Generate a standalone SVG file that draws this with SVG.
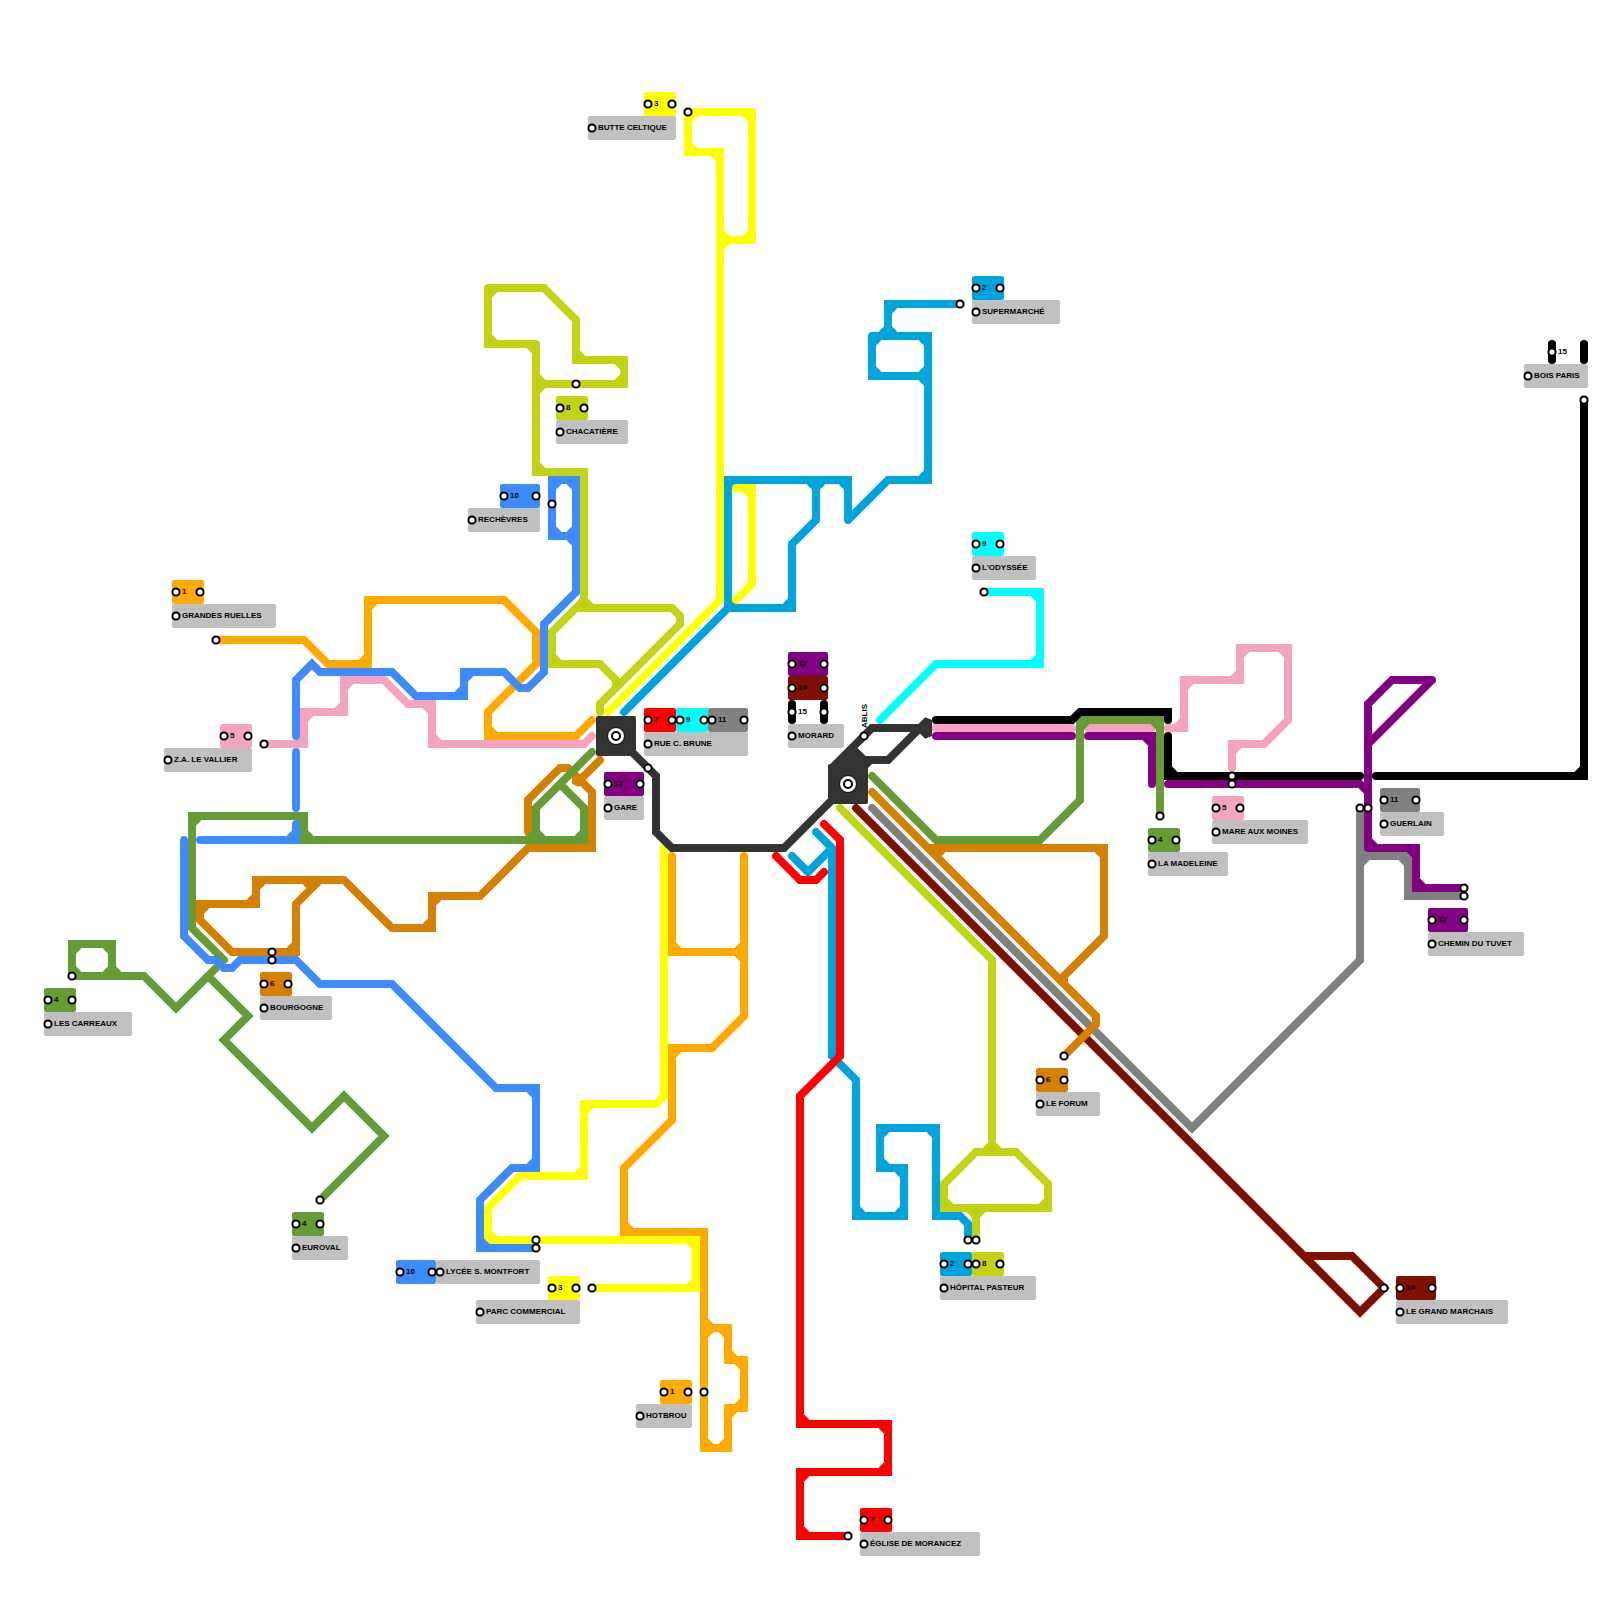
<svg xmlns="http://www.w3.org/2000/svg" width="1600" height="1600" viewBox="0 0 1600 1600">
<style>
.l{fill:none;stroke-width:8;stroke-linecap:round;stroke-linejoin:miter;stroke-miterlimit:2}
.s{fill:#fff;stroke:#000;stroke-width:2}
.b{fill:#c0c0c0}
text{font-family:"Liberation Sans",Arial,sans-serif;font-size:8px;font-weight:bold;fill:#000;transform:translate(0,-1px)}
</style>
<rect width="1600" height="1600" fill="#fff"/>
<g id="connectors">
<path id="line1" class="l" stroke="#ffaa00" d="M216,640H304L328,664H368V600H504L536,632V664L488,712V736H576L592,720M360,664L368,656M376,600L368,608M488,728L496,736
M672,856V952H744M744,856V1016L712,1048H672V1120L624,1168V1232H704V1448H728V1408H744V1360H728V1328H712L704,1320
M672,944L680,952M736,952L744,944M736,952L744,960M680,1048L672,1056M624,1224L632,1232M696,1232L704,1240M704,1440L712,1448M720,1448L728,1440M728,1416L736,1408M736,1408L744,1400M736,1360L744,1368M728,1352L736,1360M720,1328L728,1336M712,1328L704,1336"/>
<path id="line2" class="l" stroke="#00a3da" d="M960,304H888V336M896,304L888,312M880,336L888,328M896,336L888,328M872,336H928V480H888L848,520V480H728V608H792V544L816,520V480M872,336V376H928M880,336L872,344M872,368L880,376M920,336L928,344M920,376L928,368M920,376L928,384M928,472L920,480M840,480L848,488M736,480L728,488M808,480L816,488M824,480L816,488M784,608L792,600M728,600L736,608M848,520h0M728,608L624,712
M792,856L808,872L832,848M816,832L832,848V1056L856,1080V1216H904V1168H880V1128H936V1216H960L968,1224V1240M856,1208L864,1216M896,1216L904,1208M896,1168L904,1176M880,1160L888,1168M888,1128L880,1136M928,1128L936,1136M936,1208L944,1216"/>
<path id="line3" class="l" stroke="#ffff00" d="M688,112H752V240H728L720,232M728,240L720,248M688,112V152H720V600L608,712M696,112L688,120M744,112L752,120M688,144L696,152M712,152L720,160M752,232L744,240M736,488H752V584L736,600M744,488L752,496
M664,848V1096L656,1104H584V1176H520L488,1208V1240H696V1288H592M488,1232L496,1240M688,1240L696,1248M696,1280L688,1288M584,1168L576,1176M592,1104L584,1112"/>
<path id="line5" class="l" stroke="#f4a4c0" d="M264,744H304V712H344V680H384L408,704H432V744H584L592,736M296,744L304,736M312,712L304,720M336,712L344,704M352,680L344,688M424,704L432,712M432,736L440,744
M936,728H1072M1088,728H1152M1168,728H1184V680H1240V648H1288V720L1264,744H1232V768M1176,728L1184,720M1192,680L1184,688M1232,680L1240,672M1248,648L1240,656M1280,648L1288,656M1240,744L1232,752"/>
<path id="line6a" class="l" stroke="#d48000" d="M528,832V800L560,768H568L592,792V848H528L480,896H432V928H392L344,880H256V904H200V920L232,952H296V904L320,880M600,760L576,784V776M584,848L592,840M440,896L432,904M432,920L424,928M264,880L256,888M256,896L248,904M208,904L200,912M296,944L288,952M304,880L312,888"/>
<path id="line4" class="l" stroke="#669c35" d="M72,976V944H112V976M72,976H144L176,1008L216,968M208,976L248,1016L224,1040L312,1128L344,1096L384,1136L320,1200M80,944L72,952M104,944L112,952M104,976L112,968M120,976L112,968M72,968L80,976
M224,960L192,928V816H304V840H584V808L560,784M592,752L536,808V840M536,832L544,840M528,840L536,832M576,840L584,832M296,816L304,824M304,832L312,840M200,816L192,824
M872,776L936,840H1040L1080,800V720H1160V816M1088,720L1080,728M1152,720L1160,728"/>
<path id="line7" class="l" stroke="#ff0000" d="M824,824L840,840V1056L800,1096V1424H888V1472H800V1536H848M776,856L800,880H816L824,872M800,1416L808,1424M880,1424L888,1432M888,1464L880,1472M808,1472L800,1480M800,1528L808,1536"/>
<path id="line8" class="l" stroke="#c2d315" d="M488,288H544L576,320V360H624V384H536M536,344H488V288M536,344V472H584V600L552,632V664H600L616,680V688M680,624L600,704V712M592,608H672L680,616V624M576,608H592M584,600L592,608M552,656L560,664M576,472L584,480M536,464L544,472M536,376L544,384M544,384L536,392M528,344L536,352M488,336L496,344M496,288L488,296M576,352L584,360M616,360L624,368M624,376L616,384
M840,808L992,960V1152M976,1152H1016L1048,1184V1208H944V1184L976,1152M976,1208V1240M984,1152L992,1144M1000,1152L992,1144M968,1208L976,1216M984,1208L976,1216M944,1200L952,1208M1040,1208L1048,1200"/>
<path id="line9" class="l" stroke="#00ffff" d="M880,720L936,664H1040V592H984M1040,656L1032,664M1032,592L1040,600"/>
<path id="line10" class="l" stroke="#3d8bff" d="M536,1248H480V1200L512,1168H536V1088H496L392,984H320L296,960H240L232,968H224L216,960H208L184,936V840M480,1240L488,1248M528,1168L536,1160M528,1088L536,1096
M200,840H296V824M288,840L296,832M296,808V752M296,736V680L312,664L320,672H392L416,696H464V672H504L520,688H528L544,672V624L576,592V480H552V536H568L576,544M456,696L464,688M472,672L464,680M560,480L552,488M568,480L576,488M552,528L560,536M568,536L576,528"/>
<path id="line11" class="l" stroke="#808080" d="M1360,808V960L1192,1128L872,808M1360,856H1408V896H1464M1360,848L1368,856M1368,856L1360,864M1400,856L1408,864M1408,888L1416,896"/>
<path id="line12" class="l" stroke="#800080" d="M936,736H1072M1088,736H1152V784M1144,736L1152,744M1168,784H1360L1368,792M1368,848V704L1392,680H1432L1368,744M1432,680h0M1368,848H1416V888H1464M1368,840L1376,848M1408,848L1416,856M1416,880L1424,888"/>
<path id="line14" class="l" stroke="#7f1100" d="M856,808L1360,1312L1384,1288L1352,1256H1304"/>
<path id="line6b" class="l" stroke="#d48000" d="M872,792L1096,1016V1024L1064,1056M928,848H1104V936L1064,976V984M1096,848L1104,856M944,848L936,856"/>
<path id="line15" class="l" stroke="#000" d="M936,720H1072L1080,712H1168V720M1168,736V776H1360M1376,776H1584V400M1168,768L1176,776M1576,776L1584,768"/>
<path id="lineCore" class="l" stroke="#333" d="M632,752L656,776V832L672,848H784L832,800M832,768L872,728H920L928,720V736L920,728M856,752L864,760H888L920,728"/>
<polygon fill="#333" points="838,760 856,748 864,756 872,764 868,768 838,768"/>
</g>
<g id="core1"><rect x="596" y="716" width="40" height="40" rx="2" fill="#333"/><circle cx="616" cy="736" r="8.5" fill="#fff" stroke="#000" stroke-width="1"/><circle cx="616" cy="736" r="5" fill="#000"/><circle cx="616" cy="736" r="3" fill="#fff"/></g>
<g id="core2"><rect x="828" y="764" width="40" height="40" rx="2" fill="#333"/><circle cx="848" cy="784" r="8.5" fill="#fff" stroke="#000" stroke-width="1"/><circle cx="848" cy="784" r="5" fill="#000"/><circle cx="848" cy="784" r="3" fill="#fff"/></g>
<g id="terminals">
<circle class="s" cx="216" cy="640" r="3.6"/><circle class="s" cx="264" cy="744" r="3.6"/><circle class="s" cx="72" cy="976" r="3.6"/><circle class="s" cx="320" cy="1200" r="3.6"/><circle class="s" cx="272" cy="952" r="3.6"/><circle class="s" cx="272" cy="960" r="3.6"/><circle class="s" cx="536" cy="1240" r="3.6"/><circle class="s" cx="536" cy="1248" r="3.6"/><circle class="s" cx="592" cy="1288" r="3.6"/><circle class="s" cx="704" cy="1392" r="3.6"/><circle class="s" cx="848" cy="1536" r="3.6"/><circle class="s" cx="968" cy="1240" r="3.6"/><circle class="s" cx="976" cy="1240" r="3.6"/><circle class="s" cx="1064" cy="1056" r="3.6"/><circle class="s" cx="1384" cy="1288" r="3.6"/><circle class="s" cx="1464" cy="888" r="3.6"/><circle class="s" cx="1464" cy="896" r="3.6"/><circle class="s" cx="1360" cy="808" r="3.6"/><circle class="s" cx="1368" cy="808" r="3.6"/><circle class="s" cx="1232" cy="776" r="3.6"/><circle class="s" cx="1232" cy="784" r="3.6"/><circle class="s" cx="1160" cy="816" r="3.6"/><circle class="s" cx="1584" cy="400" r="3.6"/><circle class="s" cx="984" cy="592" r="3.6"/><circle class="s" cx="960" cy="304" r="3.6"/><circle class="s" cx="864" cy="736" r="3.6"/><circle class="s" cx="648" cy="768" r="3.6"/><circle class="s" cx="552" cy="504" r="3.6"/><circle class="s" cx="576" cy="384" r="3.6"/><circle class="s" cx="688" cy="112" r="3.6"/>
<text style="transform:translate(867px,728px) rotate(-90deg)">ABLIS</text>
</g>
<g id="grandes-ruelles"><rect x="172" y="580" width="32" height="24" rx="2" fill="#ffaa00"/><rect class="b" x="172" y="604" width="104" height="24" rx="2"/><circle class="s" cx="176" cy="592" r="3.6"/><circle class="s" cx="200" cy="592" r="3.6"/><circle class="s" cx="176" cy="616" r="3.6"/><text x="182" y="595">1</text><text x="182" y="619">GRANDES RUELLES</text></g>
<g id="za-le-vallier"><rect x="220" y="724" width="32" height="24" rx="2" fill="#f4a4c0"/><rect class="b" x="164" y="748" width="88" height="24" rx="2"/><circle class="s" cx="224" cy="736" r="3.6"/><circle class="s" cx="248" cy="736" r="3.6"/><circle class="s" cx="168" cy="760" r="3.6"/><text x="230" y="739">5</text><text x="174" y="763">Z.A. LE VALLIER</text></g>
<g id="les-carreaux"><rect x="44" y="988" width="32" height="24" rx="2" fill="#669c35"/><rect class="b" x="44" y="1012" width="88" height="24" rx="2"/><circle class="s" cx="48" cy="1000" r="3.6"/><circle class="s" cx="72" cy="1000" r="3.6"/><circle class="s" cx="48" cy="1024" r="3.6"/><text x="54" y="1003">4</text><text x="54" y="1027">LES CARREAUX</text></g>
<g id="bourgogne"><rect x="260" y="972" width="32" height="24" rx="2" fill="#d48000"/><rect class="b" x="260" y="996" width="72" height="24" rx="2"/><circle class="s" cx="264" cy="984" r="3.6"/><circle class="s" cx="288" cy="984" r="3.6"/><circle class="s" cx="264" cy="1008" r="3.6"/><text x="270" y="987">6</text><text x="270" y="1011">BOURGOGNE</text></g>
<g id="euroval"><rect x="292" y="1212" width="32" height="24" rx="2" fill="#669c35"/><rect class="b" x="292" y="1236" width="56" height="24" rx="2"/><circle class="s" cx="296" cy="1224" r="3.6"/><circle class="s" cx="320" cy="1224" r="3.6"/><circle class="s" cx="296" cy="1248" r="3.6"/><text x="302" y="1227">4</text><text x="302" y="1251">EUROVAL</text></g>
<g id="lycee"><rect x="396" y="1260" width="40" height="24" rx="2" fill="#3d8bff"/><rect class="b" x="436" y="1260" width="104" height="24" rx="2"/><circle class="s" cx="400" cy="1272" r="3.6"/><circle class="s" cx="432" cy="1272" r="3.6"/><circle class="s" cx="440" cy="1272" r="3.6"/><text x="406" y="1275">10</text><text x="446" y="1275">LYCÉE S. MONTFORT</text></g>
<g id="parc-commercial"><rect x="548" y="1276" width="32" height="24" rx="2" fill="#ffff00"/><rect class="b" x="476" y="1300" width="104" height="24" rx="2"/><circle class="s" cx="552" cy="1288" r="3.6"/><circle class="s" cx="576" cy="1288" r="3.6"/><circle class="s" cx="480" cy="1312" r="3.6"/><text x="558" y="1291">3</text><text x="486" y="1315">PARC COMMERCIAL</text></g>
<g id="hotbrou"><rect x="660" y="1380" width="32" height="24" rx="2" fill="#ffaa00"/><rect class="b" x="636" y="1404" width="56" height="24" rx="2"/><circle class="s" cx="664" cy="1392" r="3.6"/><circle class="s" cx="688" cy="1392" r="3.6"/><circle class="s" cx="640" cy="1416" r="3.6"/><text x="670" y="1395">1</text><text x="646" y="1419">HOTBROU</text></g>
<g id="eglise"><rect x="860" y="1508" width="32" height="24" rx="2" fill="#ff0000"/><rect class="b" x="860" y="1532" width="120" height="24" rx="2"/><circle class="s" cx="864" cy="1520" r="3.6"/><circle class="s" cx="888" cy="1520" r="3.6"/><circle class="s" cx="864" cy="1544" r="3.6"/><text x="870" y="1523">7</text><text x="870" y="1547">ÉGLISE DE MORANCEZ</text></g>
<g id="hopital"><rect x="940" y="1252" width="32" height="24" rx="2" fill="#00a3da"/><rect x="972" y="1252" width="32" height="24" rx="2" fill="#c2d315"/><rect class="b" x="940" y="1276" width="96" height="24" rx="2"/><circle class="s" cx="944" cy="1264" r="3.6"/><circle class="s" cx="968" cy="1264" r="3.6"/><circle class="s" cx="976" cy="1264" r="3.6"/><circle class="s" cx="1000" cy="1264" r="3.6"/><circle class="s" cx="944" cy="1288" r="3.6"/><text x="950" y="1267">2</text><text x="982" y="1267">8</text><text x="950" y="1291">HÔPITAL PASTEUR</text></g>
<g id="le-forum"><rect x="1036" y="1068" width="32" height="24" rx="2" fill="#d48000"/><rect class="b" x="1036" y="1092" width="64" height="24" rx="2"/><circle class="s" cx="1040" cy="1080" r="3.6"/><circle class="s" cx="1064" cy="1080" r="3.6"/><circle class="s" cx="1040" cy="1104" r="3.6"/><text x="1046" y="1083">6</text><text x="1046" y="1107">LE FORUM</text></g>
<g id="grand-marchais"><rect x="1396" y="1276" width="40" height="24" rx="2" fill="#7f1100"/><rect class="b" x="1396" y="1300" width="112" height="24" rx="2"/><circle class="s" cx="1400" cy="1288" r="3.6"/><circle class="s" cx="1432" cy="1288" r="3.6"/><circle class="s" cx="1400" cy="1312" r="3.6"/><text x="1406" y="1291">14</text><text x="1406" y="1315">LE GRAND MARCHAIS</text></g>
<g id="chemin-tuvet"><rect x="1428" y="908" width="40" height="24" rx="2" fill="#800080"/><rect class="b" x="1428" y="932" width="96" height="24" rx="2"/><circle class="s" cx="1432" cy="920" r="3.6"/><circle class="s" cx="1464" cy="920" r="3.6"/><circle class="s" cx="1432" cy="944" r="3.6"/><text x="1438" y="923">12</text><text x="1438" y="947">CHEMIN DU TUVET</text></g>
<g id="guerlain"><rect x="1380" y="788" width="40" height="24" rx="2" fill="#808080"/><rect class="b" x="1380" y="812" width="64" height="24" rx="2"/><circle class="s" cx="1384" cy="800" r="3.6"/><circle class="s" cx="1416" cy="800" r="3.6"/><circle class="s" cx="1384" cy="824" r="3.6"/><text x="1390" y="803">11</text><text x="1390" y="827">GUERLAIN</text></g>
<g id="mare-aux-moines"><rect x="1212" y="796" width="32" height="24" rx="2" fill="#f4a4c0"/><rect class="b" x="1212" y="820" width="96" height="24" rx="2"/><circle class="s" cx="1216" cy="808" r="3.6"/><circle class="s" cx="1240" cy="808" r="3.6"/><circle class="s" cx="1216" cy="832" r="3.6"/><text x="1222" y="811">5</text><text x="1222" y="835">MARE AUX MOINES</text></g>
<g id="la-madeleine"><rect x="1148" y="828" width="32" height="24" rx="2" fill="#669c35"/><rect class="b" x="1148" y="852" width="80" height="24" rx="2"/><circle class="s" cx="1152" cy="840" r="3.6"/><circle class="s" cx="1176" cy="840" r="3.6"/><circle class="s" cx="1152" cy="864" r="3.6"/><text x="1158" y="843">4</text><text x="1158" y="867">LA MADELEINE</text></g>
<g id="bois-paris"><path class="l" stroke="#000" d="M1552,344V360M1584,344V360"/><rect class="b" x="1524" y="364" width="64" height="24" rx="2"/><circle class="s" cx="1552" cy="352" r="3.6"/><circle class="s" cx="1528" cy="376" r="3.6"/><text x="1558" y="355">15</text><text x="1534" y="379">BOIS PARIS</text></g>
<g id="morard"><rect x="788" y="652" width="40" height="24" rx="2" fill="#800080"/><rect x="788" y="676" width="40" height="24" rx="2" fill="#7f1100"/><path class="l" stroke="#000" d="M792,704V720M824,704V720"/><rect class="b" x="788" y="724" width="56" height="24" rx="2"/><circle class="s" cx="792" cy="664" r="3.6"/><circle class="s" cx="824" cy="664" r="3.6"/><circle class="s" cx="792" cy="688" r="3.6"/><circle class="s" cx="824" cy="688" r="3.6"/><circle class="s" cx="792" cy="712" r="3.6"/><circle class="s" cx="824" cy="712" r="3.6"/><circle class="s" cx="792" cy="736" r="3.6"/><text x="798" y="667">12</text><text x="798" y="691">14</text><text x="798" y="715">15</text><text x="798" y="739">MORARD</text></g>
<g id="rue-c-brune"><rect x="644" y="708" width="32" height="24" rx="2" fill="#ff0000"/><rect x="676" y="708" width="32" height="24" rx="2" fill="#00ffff"/><rect x="708" y="708" width="40" height="24" rx="2" fill="#808080"/><rect class="b" x="644" y="732" width="104" height="24" rx="2"/><circle class="s" cx="648" cy="720" r="3.6"/><circle class="s" cx="672" cy="720" r="3.6"/><circle class="s" cx="680" cy="720" r="3.6"/><circle class="s" cx="704" cy="720" r="3.6"/><circle class="s" cx="712" cy="720" r="3.6"/><circle class="s" cx="744" cy="720" r="3.6"/><circle class="s" cx="648" cy="744" r="3.6"/><text x="654" y="723">7</text><text x="686" y="723">9</text><text x="718" y="723">11</text><text x="654" y="747">RUE C. BRUNE</text></g>
<g id="gare"><rect x="604" y="772" width="40" height="24" rx="2" fill="#800080"/><rect class="b" x="604" y="796" width="40" height="24" rx="2"/><circle class="s" cx="608" cy="784" r="3.6"/><circle class="s" cx="640" cy="784" r="3.6"/><circle class="s" cx="608" cy="808" r="3.6"/><text x="614" y="787">12</text><text x="614" y="811">GARE</text></g>
<g id="chacatiere"><rect x="556" y="396" width="32" height="24" rx="2" fill="#c2d315"/><rect class="b" x="556" y="420" width="72" height="24" rx="2"/><circle class="s" cx="560" cy="408" r="3.6"/><circle class="s" cx="584" cy="408" r="3.6"/><circle class="s" cx="560" cy="432" r="3.6"/><text x="566" y="411">8</text><text x="566" y="435">CHACATIÈRE</text></g>
<g id="recheves"><rect x="500" y="484" width="40" height="24" rx="2" fill="#3d8bff"/><rect class="b" x="468" y="508" width="72" height="24" rx="2"/><circle class="s" cx="504" cy="496" r="3.6"/><circle class="s" cx="536" cy="496" r="3.6"/><circle class="s" cx="472" cy="520" r="3.6"/><text x="510" y="499">10</text><text x="478" y="523">RECHÈVRES</text></g>
<g id="supermarche"><rect x="972" y="276" width="32" height="24" rx="2" fill="#00a3da"/><rect class="b" x="972" y="300" width="88" height="24" rx="2"/><circle class="s" cx="976" cy="288" r="3.6"/><circle class="s" cx="1000" cy="288" r="3.6"/><circle class="s" cx="976" cy="312" r="3.6"/><text x="982" y="291">2</text><text x="982" y="315">SUPERMARCHÉ</text></g>
<g id="odyssee"><rect x="972" y="532" width="32" height="24" rx="2" fill="#00ffff"/><rect class="b" x="972" y="556" width="64" height="24" rx="2"/><circle class="s" cx="976" cy="544" r="3.6"/><circle class="s" cx="1000" cy="544" r="3.6"/><circle class="s" cx="976" cy="568" r="3.6"/><text x="982" y="547">9</text><text x="982" y="571">L'ODYSSÉE</text></g>
<g id="butte-celtique"><rect x="644" y="92" width="32" height="24" rx="2" fill="#ffff00"/><rect class="b" x="588" y="116" width="88" height="24" rx="2"/><circle class="s" cx="648" cy="104" r="3.6"/><circle class="s" cx="672" cy="104" r="3.6"/><circle class="s" cx="592" cy="128" r="3.6"/><text x="654" y="107">3</text><text x="598" y="131">BUTTE CELTIQUE</text></g>
</svg>
